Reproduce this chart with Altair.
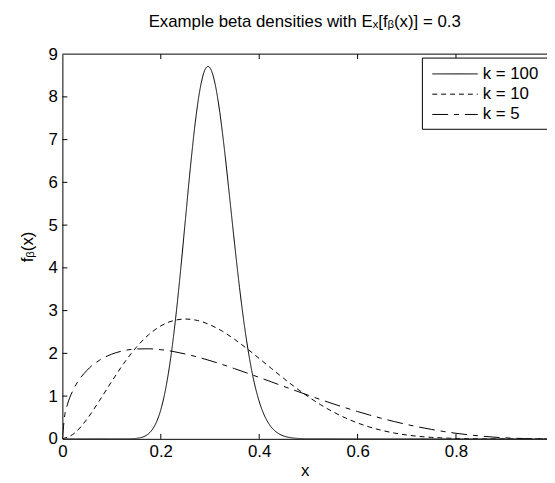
import altair as alt
import pandas as pd

F = "Liberation Sans, Arial, DejaVu Sans, sans-serif"

labels = ["k = 100", "k = 10", "k = 5"]

x100 = [0.0, 0.10, 0.13, 0.14, 0.15, 0.16, 0.17, 0.18, 0.19, 0.20, 0.21, 0.22,
        0.23, 0.24, 0.25, 0.26, 0.27, 0.28, 0.29, 0.296, 0.30, 0.31, 0.32, 0.33,
        0.34, 0.35, 0.36, 0.37, 0.38, 0.39, 0.40, 0.41, 0.42, 0.43, 0.44, 0.45,
        0.46, 0.47, 0.48, 0.50, 0.60, 1.0]
y100 = [0.0, 0.0, 0.0008, 0.0032, 0.0106, 0.0305, 0.0775, 0.176, 0.363, 0.681,
        1.177, 1.883, 2.806, 3.911, 5.124, 6.330, 7.395, 8.196, 8.641, 8.711,
        8.679, 8.323, 7.633, 6.703, 5.643, 4.562, 3.542, 2.645, 1.900, 1.314,
        0.876, 0.562, 0.347, 0.207, 0.119, 0.066, 0.035, 0.018, 0.009, 0.002,
        0.0, 0.0]

x10 = [0.0, 0.025, 0.05, 0.075, 0.1, 0.125, 0.15, 0.175, 0.2, 0.225, 0.25,
       0.275, 0.3, 0.325, 0.35, 0.375, 0.4, 0.425, 0.45, 0.475, 0.5, 0.525,
       0.55, 0.575, 0.6, 0.625, 0.65, 0.675, 0.7, 0.725, 0.75, 0.775, 0.8,
       0.825, 0.85, 0.875, 0.9, 0.95, 1.0]
y10 = [0.0, 0.135, 0.463, 0.888, 1.339, 1.767, 2.139, 2.433, 2.642, 2.764,
       2.803, 2.768, 2.668, 2.518, 2.328, 2.112, 1.881, 1.645, 1.413, 1.191,
       0.984, 0.798, 0.633, 0.491, 0.372, 0.274, 0.196, 0.135, 0.090, 0.057,
       0.035, 0.020, 0.010, 0.005, 0.002, 0.001, 0.0002, 0.0, 0.0]

x5 = [0.0, 0.005, 0.01, 0.025, 0.05, 0.075, 0.1, 0.125, 0.15, 0.175, 0.2,
      0.225, 0.25, 0.275, 0.3, 0.325, 0.35, 0.375, 0.4, 0.425, 0.45, 0.475,
      0.5, 0.525, 0.55, 0.575, 0.6, 0.625, 0.65, 0.675, 0.7, 0.725, 0.75,
      0.775, 0.8, 0.825, 0.85, 0.875, 0.9, 0.925, 0.95, 0.975, 1.0]
y5 = [0.0, 0.569, 0.795, 1.209, 1.603, 1.836, 1.980, 2.063, 2.102, 2.107,
      2.086, 2.044, 1.985, 1.913, 1.830, 1.739, 1.642, 1.541, 1.437, 1.332,
      1.226, 1.122, 1.019, 0.918, 0.821, 0.728, 0.639, 0.555, 0.476, 0.403,
      0.336, 0.275, 0.221, 0.172, 0.130, 0.095, 0.066, 0.042, 0.024, 0.012,
      0.004, 0.001, 0.0]

xticks = [0, 0.2, 0.4, 0.6, 0.8]
yticks = [0, 1, 2, 3, 4, 5, 6, 7, 8, 9]

W, H = 490, 389

rows = []
for lab, xs, ys in [(labels[0], x100, y100), (labels[1], x10, y10), (labels[2], x5, y5)]:
    for a, b in zip(xs, ys):
        rows.append({"x": a, "y": b, "k": lab})
df = pd.DataFrame(rows)

xscale = alt.Scale(domain=[0, 0.985], nice=False, zero=False)
yscale = alt.Scale(domain=[0, 9], nice=False)
dash = alt.Scale(domain=labels, range=[[1, 0], [5, 4], [16, 6, 5, 6]])

xaxis = alt.Axis(values=xticks, title="x", format="~g", titlePadding=3, labelFlush=False)
yaxis = alt.Axis(values=yticks, title="fᵦ(x)", titlePadding=12, labelFlush=False)

lines = alt.Chart(df).mark_line(color="black", strokeWidth=1, clip=True,
                                interpolate="monotone").encode(
    x=alt.X("x:Q", scale=xscale, axis=xaxis),
    y=alt.Y("y:Q", scale=yscale, axis=yaxis),
    strokeDash=alt.StrokeDash("k:N", scale=dash, legend=None),
)

xt = pd.DataFrame({"x": xticks[1:]})
yt = pd.DataFrame({"y": yticks[1:-1]})
one = pd.DataFrame({"a": [0]})

ticks_bottom = alt.Chart(xt).mark_rule(color="black", strokeWidth=1).encode(
    x=alt.X("x:Q", scale=xscale, axis=xaxis), y=alt.value(H - 5), y2=alt.value(H))
ticks_top = alt.Chart(xt).mark_rule(color="black", strokeWidth=1).encode(
    x=alt.X("x:Q", scale=xscale, axis=xaxis), y=alt.value(0), y2=alt.value(5))
ticks_left = alt.Chart(yt).mark_rule(color="black", strokeWidth=1).encode(
    y=alt.Y("y:Q", scale=yscale, axis=yaxis), x=alt.value(0), x2=alt.value(5))
top_border = alt.Chart(one).mark_rule(color="black", strokeWidth=1).encode(
    x=alt.value(0), x2=alt.value(W + 20), y=alt.value(0))

main = alt.layer(lines, ticks_bottom, ticks_top, ticks_left, top_border)

leg_df = pd.DataFrame({"k": labels})
leg_y = alt.Y("k:N", scale=alt.Scale(type="point", domain=labels, range=[20, 61], padding=0),
              axis=None)
leg_box = alt.Chart(one).mark_rect(fill="white", stroke="black", strokeWidth=1).encode(
    x=alt.value(364), x2=alt.value(W + 30), y=alt.value(4), y2=alt.value(76))
leg_rules = alt.Chart(leg_df).mark_rule(color="black", strokeWidth=1).encode(
    x=alt.value(374), x2=alt.value(420), y=leg_y,
    strokeDash=alt.StrokeDash("k:N", scale=dash, legend=None))
leg_text = alt.Chart(leg_df).mark_text(align="left", baseline="middle", fontSize=17,
                                       font=F, color="black").encode(
    x=alt.value(425), y=leg_y, text="k:N")
legend = alt.layer(leg_box, leg_rules, leg_text)

chart = alt.layer(main, legend).resolve_scale(y="independent").properties(
    width=W, height=H,
    title=alt.Title("Example beta densities with Eₓ[fᵦ(x)] = 0.3", fontSize=17, font=F,
                    fontWeight="normal", color="black", anchor="middle", offset=14),
    padding={"left": 55, "top": 44, "right": 0, "bottom": 42},
    autosize=alt.AutoSizeParams(type="none"),
).configure_view(stroke=None).configure_axis(
    labelFont=F, labelFontSize=17, labelColor="black",
    titleFont=F, titleFontSize=17, titleColor="black", titleFontWeight="normal",
    domainColor="black", domainWidth=1, ticks=False, grid=False, labelPadding=5,
)

chart.save("out.html", embed_options={"renderer": "svg", "actions": False})
